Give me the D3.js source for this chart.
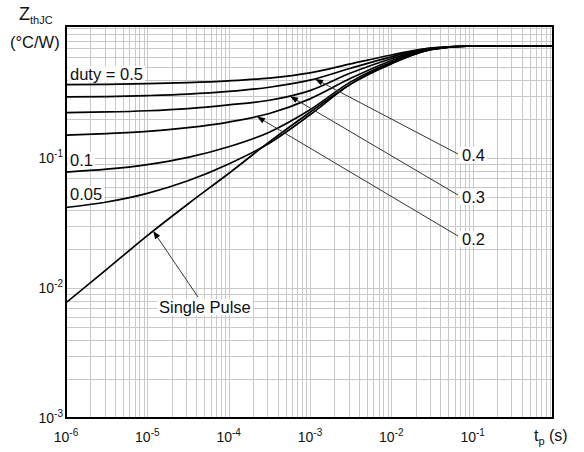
<!DOCTYPE html>
<html>
<head>
<meta charset="utf-8">
<script src="https://cdn.jsdelivr.net/npm/d3@7"></script>
<style>
  body { margin: 0; background: #fff; }
  svg { display: block; font-family: "Liberation Sans", Arial, sans-serif; }
</style>
</head>
<body>
<svg id="chart" width="584" height="452"></svg>
<script>
// Pulse widths (s) at which each curve is sampled
const pulseTimes = [1e-6, 3.16e-6, 1e-5, 3.16e-5, 1e-4, 3.16e-4, 1e-3, 3.16e-3, 1e-2, 3.16e-2, 1e-1, 1];

// Transient thermal impedance Z_thJC (°C/W) per duty cycle
const duty050 = [0.367, 0.369, 0.373, 0.380, 0.392, 0.412, 0.452, 0.530, 0.620, 0.705, 0.727, 0.727];
const duty040 = [0.295, 0.297, 0.302, 0.310, 0.325, 0.350, 0.397, 0.490, 0.600, 0.700, 0.727, 0.727];
const duty030 = [0.2235, 0.226, 0.231, 0.240, 0.256, 0.278, 0.330, 0.450, 0.580, 0.695, 0.727, 0.727];
const duty020 = [0.150, 0.154, 0.160, 0.171, 0.189, 0.220, 0.285, 0.410, 0.560, 0.690, 0.727, 0.727];
const duty010 = [0.078, 0.082, 0.089, 0.101, 0.122, 0.158, 0.235, 0.385, 0.545, 0.687, 0.727, 0.727];
const duty005 = [0.0416, 0.0459, 0.0535, 0.0668, 0.090, 0.130, 0.215, 0.370, 0.535, 0.685, 0.727, 0.727];
const singlePulse = [0.0077, 0.0139, 0.0253, 0.0443, 0.076, 0.133, 0.225, 0.370, 0.530, 0.683, 0.727, 0.727];

const curves = [
  { key: "0.5", values: duty050 },
  { key: "0.4", values: duty040 },
  { key: "0.3", values: duty030 },
  { key: "0.2", values: duty020 },
  { key: "0.1", values: duty010 },
  { key: "0.05", values: duty005 },
  { key: "single", values: singlePulse }
];

// Axis decades and tick labels
const xDecades = [1e-6, 1e-5, 1e-4, 1e-3, 1e-2, 1e-1];
const xTickExps = ["-6", "-5", "-4", "-3", "-2", "-1"];
const yDecades = [1e-3, 1e-2, 1e-1];
const yTickExps = ["-3", "-2", "-1"];

const svg = d3.select("#chart");

const x = d3.scaleLog().domain([1e-6, 1]).range([66, 554]);
const y = d3.scaleLog().domain([1e-3, 1]).range([418, 28]);

const plotL = 66, plotR = 553, plotT = 26, plotB = 418;
const xMax = x.invert(plotR);
const yMax = y.invert(plotT);

// Grid: 1..9 per decade on both axes
const grid = svg.append("g").attr("stroke", "#c9c9c9").attr("stroke-width", 1);
const xGrid = [];
for (let e = -6; e <= -1; e++) for (let m = 1; m <= 9; m++) {
  const v = m * Math.pow(10, e);
  if (v > 1e-6 && v < xMax) xGrid.push(v);
}
const yGrid = [];
for (let e = -3; e <= 0; e++) for (let m = 1; m <= 9; m++) {
  const v = m * Math.pow(10, e);
  if (v > 1e-3 && v < yMax) yGrid.push(v);
}
grid.selectAll("line.vx").data(xGrid).join("line")
  .attr("x1", d => Math.round(x(d)) + 0.5).attr("x2", d => Math.round(x(d)) + 0.5)
  .attr("y1", plotT).attr("y2", plotB);
grid.selectAll("line.hy").data(yGrid).join("line")
  .attr("y1", d => Math.round(y(d)) + 0.5).attr("y2", d => Math.round(y(d)) + 0.5)
  .attr("x1", plotL).attr("x2", plotR);

// Curves
const defs = svg.append("defs");
defs.append("clipPath").attr("id", "plot-clip")
  .append("rect").attr("x", plotL).attr("y", plotT).attr("width", plotR - plotL).attr("height", plotB - plotT);

const line = d3.line()
  .x(d => x(d[0]))
  .y(d => y(d[1]))
  .curve(d3.curveMonotoneX);

const curveG = svg.append("g").attr("clip-path", "url(#plot-clip)");
const paths = {};
curves.forEach(c => {
  const pts = pulseTimes.map((t, i) => [t, c.values[i]]);
  paths[c.key] = curveG.append("path")
    .attr("d", line(pts))
    .attr("fill", "none")
    .attr("stroke", "#000")
    .attr("stroke-width", 1.7)
    .node();
});

// Point on a drawn curve at a given pulse width
function pointAt(key, t) {
  const p = paths[key];
  const tx = x(t);
  let lo = 0, hi = p.getTotalLength();
  for (let i = 0; i < 40; i++) {
    const mid = (lo + hi) / 2;
    if (p.getPointAtLength(mid).x < tx) lo = mid; else hi = mid;
  }
  return p.getPointAtLength((lo + hi) / 2);
}

// Frame
svg.append("rect")
  .attr("x", plotL).attr("y", plotT).attr("width", plotR - plotL).attr("height", plotB - plotT)
  .attr("fill", "none").attr("stroke", "#000").attr("stroke-width", 2);

// Arrowhead marker
defs.append("marker")
  .attr("id", "tip").attr("markerUnits", "userSpaceOnUse")
  .attr("markerWidth", 12).attr("markerHeight", 12)
  .attr("refX", 0).attr("refY", 0).attr("viewBox", "-10 -6 12 12")
  .attr("orient", "auto")
  .append("path").attr("d", "M0,0 L-8,-3 L-8,3 Z").attr("fill", "#000");

// Labels with white backing
function label(txt, lx, ly) {
  const g = svg.append("g");
  const t = g.append("text").attr("x", lx).attr("y", ly)
    .attr("font-size", 16.5).attr("fill", "#111").text(txt);
  const b = t.node().getBBox();
  g.insert("rect", "text")
    .attr("x", b.x - 2).attr("y", b.y + 1).attr("width", b.width + 4).attr("height", b.height - 2)
    .attr("fill", "#fff");
  return g;
}

// Leader lines from labels to curves
const leaders = [
  { key: "0.4", t: 1.153e-3, ex: 458, ey: 154, text: "0.4", lx: 462, ly: 161 },
  { key: "0.3", t: 5.68e-4, ex: 458, ey: 195, text: "0.3", lx: 462, ly: 203 },
  { key: "0.2", t: 2.23e-4, ex: 458, ey: 236, text: "0.2", lx: 462, ly: 245 },
  { key: "single", t: 1.18e-5, ex: 198, ey: 297, text: "Single Pulse", lx: 159, ly: 313 }
];
leaders.forEach(a => {
  const p = pointAt(a.key, a.t);
  svg.append("line")
    .attr("x1", a.ex).attr("y1", a.ey).attr("x2", p.x).attr("y2", p.y)
    .attr("stroke", "#333").attr("stroke-width", 1)
    .attr("marker-end", "url(#tip)");
});
leaders.forEach(a => label(a.text, a.lx, a.ly));

label("duty = 0.5", 70, 80);
label("0.1", 70, 166);
label("0.05", 70, 200);

// X tick labels
const ticksG = svg.append("g").attr("fill", "#111");
xDecades.forEach((d, i) => {
  const t = ticksG.append("text").attr("x", x(d)).attr("y", 442)
    .attr("text-anchor", "middle").attr("font-size", 14);
  t.append("tspan").text("10");
  t.append("tspan").attr("dy", -6).attr("font-size", 10).text(xTickExps[i]);
});

// Y tick labels
yDecades.forEach((d, i) => {
  const t = ticksG.append("text").attr("x", 63).attr("y", y(d) + 5)
    .attr("text-anchor", "end").attr("font-size", 14);
  t.append("tspan").text("10");
  t.append("tspan").attr("dy", -6).attr("font-size", 10).text(yTickExps[i]);
});

// Axis titles
const yTitle = svg.append("text").attr("x", 19).attr("y", 20).attr("font-size", 18).attr("fill", "#111");
yTitle.append("tspan").text("Z");
yTitle.append("tspan").attr("dy", 4).attr("font-size", 11).text("thJC");
svg.append("text").attr("x", 10).attr("y", 48).attr("font-size", 16.5).attr("fill", "#111").text("(°C/W)");

const xTitle = svg.append("text").attr("x", 534).attr("y", 441).attr("font-size", 16).attr("fill", "#111");
xTitle.append("tspan").text("t");
xTitle.append("tspan").attr("dy", 4).attr("font-size", 11).text("p");
xTitle.append("tspan").attr("dy", -4).text(" (s)");
</script>
</body>
</html>
